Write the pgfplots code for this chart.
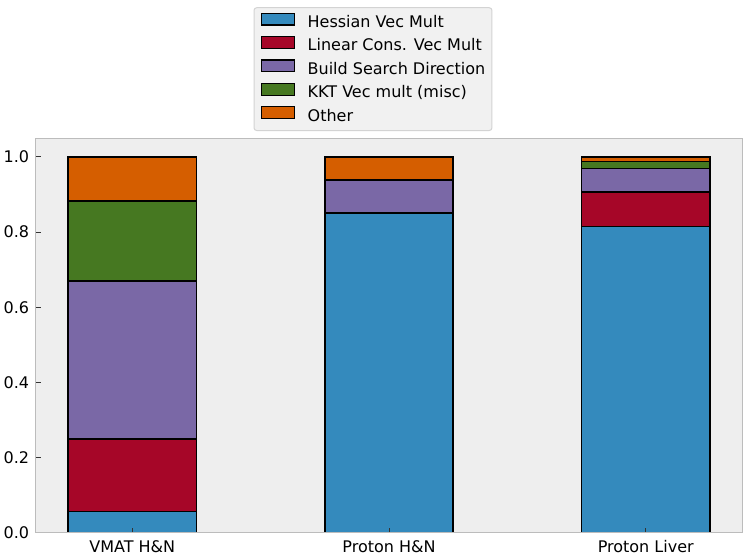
\documentclass[border=0pt]{standalone}
\usepackage{fontspec}
\setmainfont{DejaVu Sans}
\usepackage{pgfplots}
\pgfplotsset{compat=1.18}
\definecolor{c1}{HTML}{348ABD}
\definecolor{c2}{HTML}{A60628}
\definecolor{c3}{HTML}{7A68A6}
\definecolor{c4}{HTML}{467821}
\definecolor{c5}{HTML}{D55E00}
\definecolor{axbg}{HTML}{EEEEEE}
\definecolor{spine}{HTML}{BCBCBC}
\definecolor{tickc}{HTML}{333333}
\definecolor{legbg}{HTML}{F1F1F1}
\definecolor{legedge}{HTML}{D3D3D3}
\begin{document}
\begin{tikzpicture}
\useasboundingbox (0,0) rectangle (560.25pt,420pt);
\begin{axis}[
  at={(27pt,20.5pt)}, anchor=south west,
  scale only axis, width=529.5pt, height=295.9pt,
  xmin=-0.375, xmax=2.375, ymin=0, ymax=1.05,
  ybar stacked, bar width=0.5,
  legend image code/.code={\draw[#1, sharp corners, line width=0.9pt] (0pt,-0.5pt) rectangle (24.75pt,8.3pt);},
  axis on top,
  axis background/.style={fill=axbg},
  axis line style={draw=spine, line width=0.75pt},
  xtick={0,1,2},
  xticklabels={VMAT H\&N, Proton H\&N, Proton Liver},
  ytick={0,0.2,0.4,0.6,0.8,1.0},
  /pgf/number format/assume math mode=true,
  yticklabel style={/pgf/number format/fixed, /pgf/number format/fixed zerofill, /pgf/number format/precision=1, anchor=east, inner sep=0pt, xshift=-5pt},
  xticklabel style={anchor=base, inner sep=0pt, yshift=-14.7pt},
  ticklabel style={font=\fontsize{12}{14.4}\selectfont},
  tick align=inside, xtick pos=bottom, ytick pos=left,
  major tick length=3.5pt,
  tick style={color=tickc, line width=0.75pt},
  legend style={at={(axis description cs:0.4773,1.018)}, anchor=south,
    fill=legbg, draw=legedge, line width=0.75pt, rounded corners=2pt,
    inner xsep=5pt, inner ysep=3.7pt, row sep=3.05pt,
    font=\fontsize{12}{14.4}\selectfont,
    nodes={inner sep=0pt, text height=8.2pt, text depth=3.3pt},
    /tikz/every odd column/.append style={column sep=9.6pt}},
  legend cell align=left,
]
\addplot[fill=c1, draw=black, line width=1.2pt] coordinates {(0,0.056) (1,0.851) (2,0.815)};
\addplot[fill=c2, draw=black, line width=1.2pt] coordinates {(0,0.193) (1,0.001) (2,0.091)};
\addplot[fill=c3, draw=black, line width=1.2pt] coordinates {(0,0.421) (1,0.086) (2,0.063)};
\addplot[fill=c4, draw=black, line width=1.2pt] coordinates {(0,0.213) (1,0.001) (2,0.0185)};
\addplot[fill=c5, draw=black, line width=1.2pt] coordinates {(0,0.117) (1,0.061) (2,0.0125)};
\legend{Hessian Vec Mult, Linear Cons. Vec Mult, Build Search Direction, KKT Vec mult (misc), Other}
\end{axis}
\end{tikzpicture}
\end{document}
